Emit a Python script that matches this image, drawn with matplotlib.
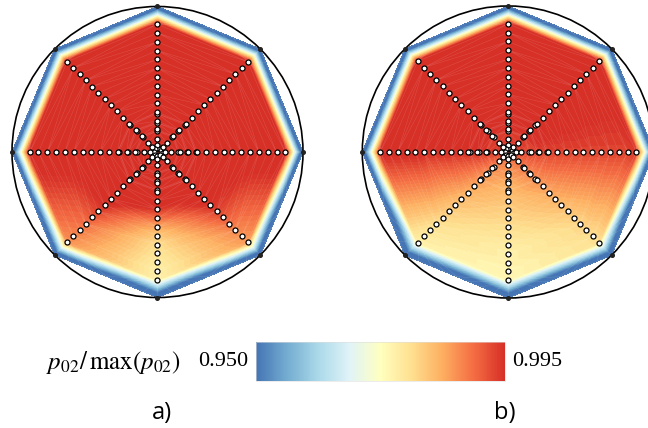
import numpy as np
import matplotlib
matplotlib.use('Agg')
import matplotlib.pyplot as plt
import matplotlib.tri as mtri
from matplotlib.colors import LinearSegmentedColormap, Normalize
from matplotlib.cm import ScalarMappable
from matplotlib.patches import Circle

plt.rcParams['mathtext.fontset'] = 'stix'

# rake geometry (angle in deg, radius relative to casing radius)
rake_angles = [0, 45, 90, 135, 180, 225, 270, 315]
probe_radii = [0.025, 0.05, 0.09, 0.143, 0.155, 0.200, 0.212, 0.263, 0.274, 0.334,
               0.394, 0.455, 0.515, 0.576, 0.636, 0.697, 0.757, 0.818, 0.878]

# p02/max(p02) along each rake, inner -> outer
p_ratio_a = [
    [0.998] * 19,
    [0.998] * 19,
    [0.998] * 19,
    [0.998] * 19,
    [0.998] * 19,
    [0.998] * 12 + [0.995, 0.993, 0.991, 0.989, 0.988, 0.987, 0.986],
    [0.998] * 9 + [0.997, 0.994, 0.989, 0.984, 0.980, 0.978, 0.977, 0.976, 0.975, 0.975],
    [0.998] * 12 + [0.995, 0.993, 0.991, 0.989, 0.987, 0.986, 0.985],
]
p_ratio_b = [
    [0.993] * 18 + [0.994],
    [0.994] * 5 + [0.998] * 14,
    [0.994] * 5 + [0.998] * 14,
    [0.994] * 5 + [0.998] * 14,
    [0.994] * 5 + [0.995] * 9 + [0.996] * 5,
    [0.990, 0.989, 0.988, 0.987, 0.987, 0.986, 0.986, 0.985, 0.985, 0.984,
     0.983, 0.982, 0.981, 0.980, 0.979, 0.978, 0.977, 0.976, 0.975],
    [0.990, 0.989, 0.987, 0.985, 0.985, 0.984, 0.983, 0.982, 0.982, 0.981,
     0.980, 0.979, 0.978, 0.977, 0.976, 0.975, 0.975, 0.974, 0.974],
    [0.991, 0.990, 0.989, 0.988, 0.988, 0.987, 0.987, 0.986, 0.986, 0.985,
     0.984, 0.983, 0.982, 0.981, 0.980, 0.979, 0.979, 0.978, 0.978],
]
center_a = 0.998
center_b = 0.992
wall_value = 0.940
vmin, vmax = 0.950, 0.995

cmap = LinearSegmentedColormap.from_list(
    'rdylbu9', ['#4575b4', '#74add1', '#abd9e9', '#e0f3f8', '#ffffbf',
                '#fee090', '#fdae61', '#f46d43', '#d73027'])
cmap.set_over('#d73027')
cmap.set_under('#4575b4')
norm = Normalize(vmin, vmax)


def wall_radius(th):
    # octagon with vertices on the unit circle at multiples of 45 deg
    return np.cos(np.pi / 8) / np.cos(np.mod(th, np.pi / 4) - np.pi / 8)


def build_mesh(values, center_value):
    th, rho, val = [], [], []
    angs = list(rake_angles) + [360]
    for k, a in enumerate(angs):
        vals = values[k % len(rake_angles)]
        th.append(np.deg2rad(a)); rho.append(0.0); val.append(center_value)
        for r, v in zip(probe_radii, vals):
            th.append(np.deg2rad(a)); rho.append(r); val.append(v)
    for a in np.arange(0, 360.01, 45 / 8):
        th.append(np.deg2rad(a)); rho.append(1.0); val.append(wall_value)
    th, rho, val = np.array(th), np.array(rho), np.array(val)
    # triangulate in (angle, relative radius) space, then map to the octagon
    flat = mtri.Triangulation(th * 0.04, rho)
    r = rho * wall_radius(th)
    x, y = r * np.cos(th), r * np.sin(th)
    tri = mtri.Triangulation(x, y, flat.triangles)
    t = tri.triangles
    area = np.abs((x[t[:, 1]] - x[t[:, 0]]) * (y[t[:, 2]] - y[t[:, 0]])
                  - (x[t[:, 2]] - x[t[:, 0]]) * (y[t[:, 1]] - y[t[:, 0]]))
    tri.set_mask(area < 1e-9)
    return tri, val


def draw_panel(ax, values, center_value):
    tri, val = build_mesh(values, center_value)
    levels = np.linspace(vmin, vmax, 61)
    ax.tricontourf(tri, val, levels=levels, cmap=cmap, norm=norm, extend='both')
    ax.triplot(tri, color='white', lw=0.3, alpha=0.18)
    ax.add_patch(Circle((0, 0), 1.0, fill=False, lw=1.2, color='black', clip_on=False))
    va = np.deg2rad(rake_angles)
    ax.plot(np.cos(va), np.sin(va), 'o', ms=2.6, color='#222222', clip_on=False, zorder=5)
    for a in rake_angles:
        rr = np.array(probe_radii)
        ax.plot(rr * np.cos(np.deg2rad(a)), rr * np.sin(np.deg2rad(a)), 'o', ms=3.6,
                mfc='white', mec='black', mew=0.9, lw=0, clip_on=False, zorder=6)
    ax.set_xlim(-1.08, 1.08)
    ax.set_ylim(-1.08, 1.08)
    ax.set_aspect('equal')
    ax.axis('off')


W, H = 648, 428
fig = plt.figure(figsize=(W / 100, H / 100), dpi=100)

L = 1.08
for (cx, cy, R), vals, cval in [((157.5, 152, 145.5), p_ratio_a, center_a),
                                ((508.3, 152, 146.0), p_ratio_b, center_b)]:
    s = 2 * L * R
    ax = fig.add_axes([(cx - L * R) / W, (H - cy - L * R) / H, s / W, s / H])
    draw_panel(ax, vals, cval)

cax = fig.add_axes([256 / W, (H - 381) / H, 249 / W, 39 / H])
cb = fig.colorbar(ScalarMappable(norm=norm, cmap=cmap), cax=cax, orientation='horizontal')
cb.set_ticks([])
cb.outline.set_linewidth(0.4)
cb.outline.set_edgecolor('#dddddd')

ty = (H - 362) / H
fig.text(248 / W, ty, '0.950', ha='right', va='center', family='Liberation Serif', fontsize=16)
fig.text(512 / W, ty, '0.995', ha='left', va='center', family='Liberation Serif', fontsize=16)
fig.text(181 / W, ty, r'$p_{02}/\,\mathrm{max}(p_{02})$', ha='right', va='center', fontsize=18)
fig.text(161.5 / W, (H - 413) / H, 'a)', ha='center', va='center', family='Open Sans', fontsize=17)
fig.text(505 / W, (H - 413) / H, 'b)', ha='center', va='center', family='Open Sans', fontsize=17)

fig.savefig('out.png', dpi=100)
